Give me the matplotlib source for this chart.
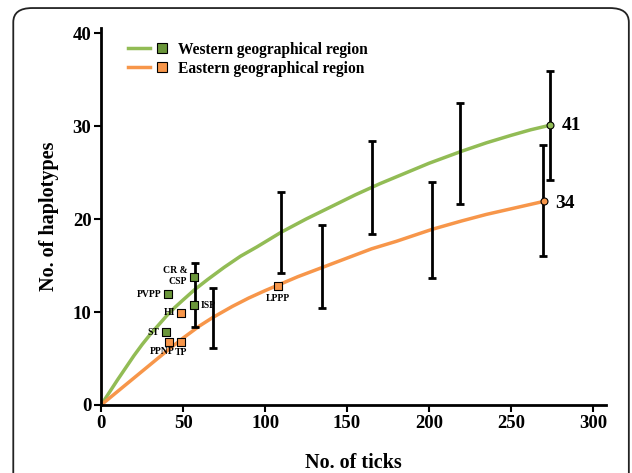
import matplotlib.pyplot as plt
from matplotlib.lines import Line2D
from matplotlib.legend_handler import HandlerTuple
from matplotlib.patches import FancyBboxPatch

plt.rcParams['font.family'] = 'Liberation Serif'
plt.rcParams['font.weight'] = 'bold'

# rarefaction curves
west_x = [0, 5, 10, 15, 20, 25, 30, 35, 40, 45, 50, 57, 65, 75, 85, 95, 110, 125, 140,
          155, 170, 185, 200, 220, 235, 250, 262, 274]
west_y = [0, 1.35, 2.7, 4.0, 5.3, 6.5, 7.6, 8.6, 9.6, 10.5, 11.3, 12.4, 13.5, 14.8, 16.0,
          17.0, 18.6, 20.0, 21.3, 22.6, 23.8, 24.9, 26.0, 27.3, 28.2, 29.0, 29.6, 30.1]
east_x = [0, 10, 20, 30, 40, 50, 60, 68, 80, 90, 100, 108, 120, 135, 150, 165, 180, 202,
          220, 235, 250, 260, 270]
east_y = [0, 1.45, 2.9, 4.35, 5.8, 7.2, 8.5, 9.4, 10.6, 11.5, 12.3, 12.9, 13.8, 14.8, 15.8,
          16.8, 17.6, 18.9, 19.8, 20.5, 21.1, 21.5, 21.9]

# error bars (low, high)
west_err_x = [57, 110, 165, 219, 274]
west_err_lo = [8.4, 14.2, 18.4, 21.6, 24.2]
west_err_hi = [15.3, 22.9, 28.4, 32.5, 35.9]
east_err_x = [68, 135, 202, 269.5]
east_err_lo = [6.1, 10.4, 13.7, 16.0]
east_err_hi = [12.6, 19.4, 24.0, 28.0]

# individual populations
west_px = [56.7, 41, 56.7, 39.6]
west_py = [13.8, 11.9, 10.75, 7.85]
east_px = [48.8, 41.4, 48.8, 108]
east_py = [9.9, 6.8, 6.8, 12.8]

green = '#92BC55'
green_dark = '#6A963A'
orange = '#F7964A'

fig = plt.figure(figsize=(6.32, 4.73), dpi=100)
ax = fig.add_axes([0.160, 0.1438, 0.799, 0.798])

# outer rounded frame
frame = FancyBboxPatch((0.021, -0.05), 0.974, 1.033, boxstyle='round,pad=0,rounding_size=0.03',
                       transform=fig.transFigure, fill=False, lw=1.3, ec='#222222')
fig.patches.append(frame)

ax.plot(west_x, west_y, color=green, lw=2.5, zorder=2)
ax.plot(east_x, east_y, color=orange, lw=2.5, zorder=2)

for x, lo, hi in zip(west_err_x + east_err_x, west_err_lo + east_err_lo, west_err_hi + east_err_hi):
    ax.errorbar([x], [(lo + hi) / 2], yerr=[[(hi - lo) / 2], [(hi - lo) / 2]], fmt='none',
                ecolor='black', elinewidth=2, capsize=3, capthick=2, zorder=3)

ax.plot([west_x[-1]], [west_y[-1]], 'o', ms=5, mfc=green, mec='black', mew=0.8, zorder=4)
ax.plot([east_x[-1]], [east_y[-1]], 'o', ms=5, mfc=orange, mec='black', mew=0.8, zorder=4)
ax.text(west_x[-1] + 7, west_y[-1], '41', fontsize=14, fontweight='bold', va='center')
ax.text(east_x[-1] + 7, east_y[-1] - 0.2, '34', fontsize=14, fontweight='bold', va='center')

ax.scatter(west_px, west_py, marker='s', s=36, c=green_dark, edgecolors='black', linewidths=0.8, zorder=5)
ax.scatter(east_px, east_py, marker='s', s=36, c=orange, edgecolors='black', linewidths=0.8, zorder=5)

lab = dict(fontsize=7, fontweight='bold')
ax.text(52.5, 13.9, 'CR &\nCSP', ha='right', va='center', linespacing=1.3, **lab)
ax.text(37, 11.9, 'PVPP', ha='right', va='center', **lab)
ax.text(60.5, 10.75, 'ISP', ha='left', va='center', **lab)
ax.text(35.5, 7.85, 'ST', ha='right', va='center', **lab)
ax.text(45, 9.9, 'HI', ha='right', va='center', **lab)
ax.text(44.5, 5.8, 'PPNP', ha='right', va='center', **lab)
ax.text(49, 5.6, 'TP', ha='center', va='center', **lab)
ax.text(108, 11.4, 'LPPP', ha='center', va='center', **lab)

ax.set_xlim(0, 308)
ax.set_ylim(0, 40.6)
ax.set_xticks([0, 50, 100, 150, 200, 250, 300])
ax.set_yticks([0, 10, 20, 30, 40])
ax.spines['top'].set_visible(False)
ax.spines['right'].set_visible(False)
ax.spines['left'].set_linewidth(2)
ax.spines['bottom'].set_linewidth(2)
ax.tick_params(width=1.5, length=5, labelsize=13.5, pad=2)
for t in ax.get_xticklabels() + ax.get_yticklabels():
    t.set_fontweight('bold')
ax.set_xlabel('No. of ticks', fontsize=14.5, fontweight='bold', labelpad=15)
ax.set_ylabel('No. of haplotypes', fontsize=14.5, fontweight='bold', labelpad=10)

h_west = (Line2D([], [], color=green, lw=2.5),
          Line2D([], [], ls='none', marker='s', ms=7, mfc=green_dark, mec='black', mew=0.8))
h_east = (Line2D([], [], color=orange, lw=2.5),
          Line2D([], [], ls='none', marker='s', ms=7, mfc=orange, mec='black', mew=0.8))
ax.legend([h_west, h_east], ['Western geographical region', 'Eastern geographical region'],
          handler_map={tuple: HandlerTuple(ndivide=None, pad=0.1)}, handlelength=2.9,
          loc='upper left', bbox_to_anchor=(0.025, 1.0), frameon=False,
          prop={'weight': 'bold', 'size': 11.2}, labelspacing=0.2, handletextpad=0.3)

fig.savefig('out.png', dpi=100)
